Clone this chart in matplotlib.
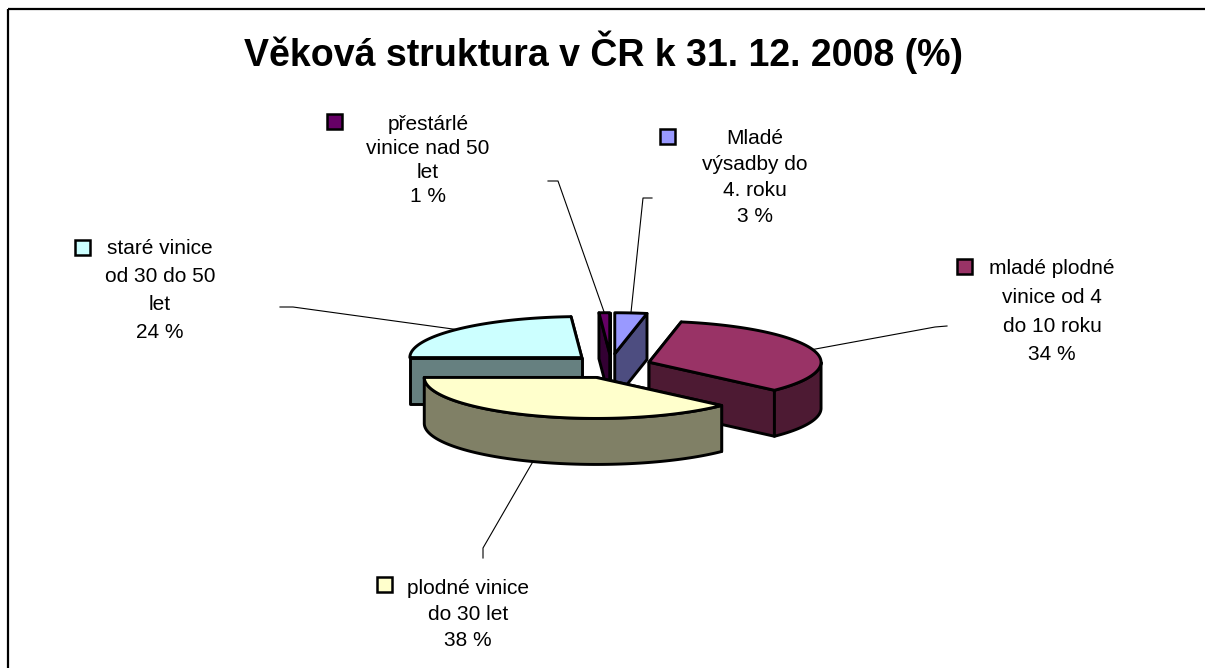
import numpy as np
import matplotlib
matplotlib.use("Agg")
import matplotlib.pyplot as plt
from matplotlib.patches import Polygon, Rectangle

plt.rcParams['font.family'] = ['Liberation Sans', 'DejaVu Sans']

title = "Věková struktura v ČR k 31. 12. 2008 (%)"
categories = [
    "Mladé\nvýsadby do\n4. roku",
    "mladé plodné\nvinice od 4\ndo 10 roku",
    "plodné vinice\ndo 30 let",
    "staré vinice\nod 30 do 50\nlet",
    "přestárlé\nvinice nad 50\nlet",
]
values = [3, 34, 38, 24, 1]

top_colors = ["#9999FF", "#993366", "#FFFFCC", "#CCFFFF", "#660066"]
side_colors = ["#4D4D80", "#4D1A33", "#808066", "#668080", "#330033"]

# label layout (pixels): first line centre, legend key centre, line spacing
label_xy = [(755, 137), (1052, 267), (468, 587), (160, 247), (428, 122)]
key_xy = [(667, 136), (964, 266), (384, 584), (82, 247), (334, 121)]
line_px = [26, 28.5, 25.5, 28, 24]
# leader line end points near the labels
leader_tail = [
    [(643, 198), (652, 198)],
    [(935, 327), (947, 326)],
    [(483, 548), (483, 558)],
    [(293, 307), (280, 307)],
    [(558, 181), (548, 181)],
]

W, H = 1205, 668
CX, CY = 611, 366
RX, RY = 172, 41
DEPTH = 46
EX, EY = 40, 12.3
LW = 2.1

fig = plt.figure(figsize=(W / 100, H / 100), dpi=100)
ax = fig.add_axes([0, 0, 1, 1])
ax.set_xlim(0, W)
ax.set_ylim(H, 0)
ax.axis("off")


def rim(cx, cy, a):
    r = np.radians(a)
    return np.array([cx + RX * np.sin(r), cy - RY * np.cos(r)])


def arc(cx, cy, a0, a1, n=90):
    t = np.radians(np.linspace(a0, a1, n))
    return np.column_stack([cx + RX * np.sin(t), cy - RY * np.cos(t)])


bounds = np.concatenate([[0], np.cumsum(values)]) / sum(values) * 360
slices = []
for i in range(len(values)):
    a0, a1 = bounds[i], bounds[i + 1]
    mid = np.radians((a0 + a1) / 2)
    cx = CX + EX * np.sin(mid)
    cy = CY - EY * np.cos(mid)
    slices.append((i, a0, a1, cx, cy))

# draw back to front: hidden radial faces, visible ones, outer wall, top
z = 2
for i, a0, a1, cx, cy in sorted(slices, key=lambda s: s[4]):
    c = np.array([cx, cy])
    d = np.array([0, DEPTH])
    faces = [(a0, np.sin(np.radians(a0)) < -1e-9), (a1, np.sin(np.radians(a1)) > 1e-9)]
    faces.sort(key=lambda f: f[1])
    for a, vis in faces:
        p = rim(cx, cy, a)
        quad = [c, p, p + d, c + d]
        ax.add_patch(Polygon(quad, closed=True, fc=side_colors[i], ec="black", lw=LW,
                             joinstyle="round", zorder=z))
        z += 1
    lo, hi = max(a0, 90), min(a1, 270)
    if hi > lo:
        pts = arc(cx, cy, lo, hi)
        side = np.vstack([pts, pts[::-1] + d])
        ax.add_patch(Polygon(side, closed=True, fc=side_colors[i], ec="black", lw=LW,
                             joinstyle="round", zorder=z))
        z += 1
    top = np.vstack([c, arc(cx, cy, a0, a1)])
    ax.add_patch(Polygon(top, closed=True, fc=top_colors[i], ec="black", lw=LW,
                         joinstyle="round", zorder=z))
    z += 1

# leader lines
for i, a0, a1, cx, cy in slices:
    mid = (a0 + a1) / 2
    start = rim(cx, cy, mid)
    if 90 < mid < 270:
        start = start + np.array([0, DEPTH])
    pts = np.vstack([start] + [np.array(leader_tail[i])])
    ax.plot(pts[:, 0], pts[:, 1], color="black", lw=0.8, zorder=1)

# labels with legend keys
fs = 15
for i, v in enumerate(values):
    x, y = label_xy[i]
    lines = f"{categories[i]}\n{v} %".split("\n")
    for j, line in enumerate(lines):
        ax.text(x, y + 7.5 + j * line_px[i], line, ha="center", va="baseline",
                fontsize=fs, zorder=20)
    kx, ky = key_xy[i]
    ax.add_patch(Rectangle((kx - 7.5, ky - 7.5), 15, 15, fc=top_colors[i], ec="black",
                           lw=1.8, zorder=20))

ax.text(603, 52, title, ha="center", va="center", fontsize=27, fontweight="bold")

# chart area border (cropped on right and bottom)
ax.plot([8, W], [9, 9], color="black", lw=1.6, solid_capstyle="butt")
ax.plot([8, 8], [9, H], color="black", lw=1.6, solid_capstyle="butt")

fig.savefig("out.png", dpi=100)
